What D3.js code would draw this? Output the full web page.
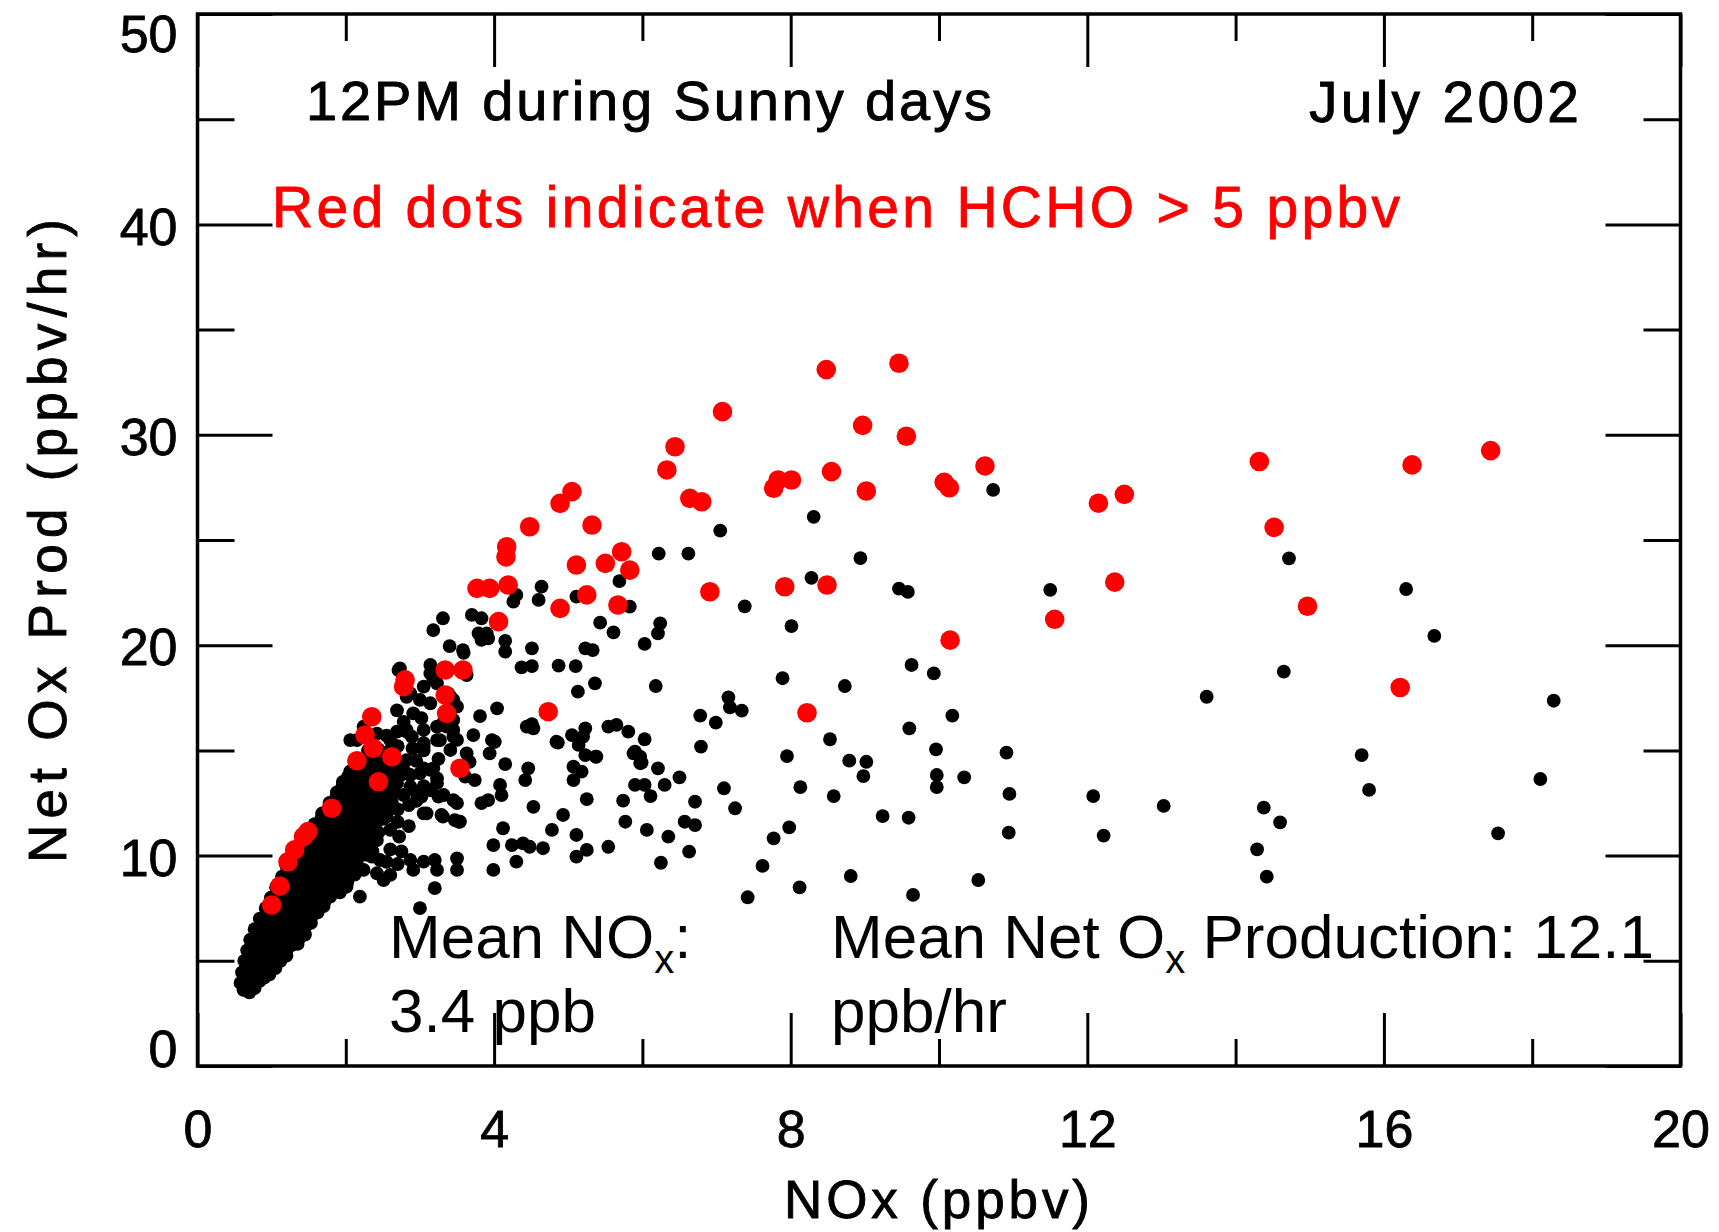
<!DOCTYPE html>
<html>
<head>
<meta charset="utf-8">
<script src="https://cdn.jsdelivr.net/npm/d3@7"></script>
<style>
    body { margin: 0; background: #fff; }
    text { font-family: 'Liberation Sans', Arial, sans-serif; }
</style>
</head>
<body>
<div id="chart"></div>
<script>
// NOx vs Net Ox production, 12PM sunny days, July 2002

const xTicksMajor = [0, 4, 8, 12, 16, 20];
const xTicksMinor = [2, 6, 10, 14, 18];
const yTicksMajor = [0, 10, 20, 30, 40, 50];
const yTicksMinor = [5, 15, 25, 35, 45];

// black dots (NOx, net Ox prod) - sparse part
const blackSparse = [
    [14.72, 24.13], [16.3, 22.67], [16.68, 20.44], [14.65, 18.74], [13.61, 17.55], [18.29, 17.36],
    [15.7, 14.78], [15.8, 13.12], [18.11, 13.64], [13.03, 12.36], [14.38, 12.28], [14.6, 11.58],
    [17.54, 11.06], [14.29, 10.3], [14.42, 9.0], [11.5, 22.63], [10.73, 27.38],
    [8.31, 26.1], [8.28, 23.2], [8.94, 24.14], [9.46, 22.69], [9.58, 22.53], [8.01, 20.91],
    [7.05, 25.45], [6.22, 24.35], [6.62, 24.35], [7.38, 21.85],
    [6.24, 21.04], [6.21, 20.56], [6.03, 20.06], [6.18, 18.06], [7.89, 18.43], [8.73, 18.06],
    [9.63, 19.06], [9.93, 18.66], [7.16, 17.52], [7.18, 17.05], [7.34, 16.89], [6.78, 16.65],
    [6.99, 16.32], [6.03, 15.53], [6.79, 15.18], [5.97, 14.7], [5.99, 14.42], [6.21, 14.15],
    [6.5, 13.72], [6.3, 13.36], [6.03, 13.36], [6.11, 12.83], [6.71, 12.56], [7.1, 13.2],
    [7.25, 12.25], [7.95, 14.73], [8.53, 15.53], [8.13, 13.25], [8.58, 12.83], [8.79, 14.51],
    [9.02, 14.46], [8.98, 13.78], [9.6, 16.05], [10.18, 16.65], [9.96, 15.05], [9.97, 13.83],
    [9.97, 13.25], [10.34, 13.72], [10.91, 14.89], [10.95, 12.93], [10.94, 11.09], [12.08, 12.83],
    [12.22, 10.95], [9.24, 11.88], [9.59, 11.8], [10.53, 8.84], [9.65, 8.13], [8.81, 9.03],
    [8.12, 8.49], [7.42, 8.02], [7.62, 9.51], [7.77, 10.82], [7.98, 11.34], [6.06, 11.22],
    [6.35, 10.9], [6.57, 11.61], [6.71, 11.45], [6.63, 10.19], [6.25, 9.66]
];

// black dots in the wedge between 2 and 6 ppbv
const blackWedge = [
    [5.69, 23.05], [4.64, 22.78], [4.6, 22.15], [4.3, 22.39], [4.26, 22.07], [5.11, 22.31], [5.83, 21.83],
    [3.31, 21.28], [3.18, 20.72], [3.7, 21.44], [3.83, 21.28], [3.79, 20.56], [3.9, 20.56], [3.83, 20.25],
    [5.43, 21.07], [5.61, 20.61], [4.15, 20.21], [4.15, 19.69], [4.51, 19.85], [3.4, 19.96], [3.59, 19.64],
    [5.23, 19.85], [5.33, 19.77], [4.37, 18.95], [4.51, 19.01], [4.87, 19.03], [5.1, 19.01], [5.36, 18.19],
    [5.13, 17.79], [3.63, 18.58], [4.04, 17.0], [3.81, 16.63], [4.44, 16.13], [4.51, 16.25], [4.86, 15.37],
    [5.05, 15.73], [5.14, 15.26], [5.23, 16.05], [5.54, 16.13], [5.65, 16.21], [5.81, 15.89], [5.37, 14.7],
    [5.9, 14.94], [5.97, 14.39], [5.9, 13.36], [5.74, 12.61], [5.25, 12.68], [5.18, 13.99], [5.07, 13.59],
    [4.93, 11.93], [4.53, 12.32], [4.46, 14.15], [4.42, 13.59], [4.01, 15.41], [3.94, 14.86], [4.15, 14.35],
    [4.08, 13.36], [4.1, 12.88], [3.92, 12.64], [3.83, 12.49], [3.72, 15.73], [4.12, 11.3], [4.78, 11.22],
    [5.11, 10.98], [5.77, 11.61], [3.09, 12.01], [3.31, 11.85], [3.54, 11.61], [3.45, 12.64], [3.25, 12.8],
    [3.74, 13.59], [3.61, 13.75], [3.63, 14.86], [3.67, 14.46], [3.27, 15.49], [3.45, 15.65], [3.36, 16.13],
    [3.45, 17.4], [3.38, 17.71], [3.18, 18.35], [3.14, 19.06], [2.73, 18.9], [2.87, 17.71], [2.91, 16.76],
    [2.82, 15.89], [3.05, 15.18], [3.14, 14.07], [2.82, 13.91], [3.23, 13.44],
    [2.71, 18.82], [3.05, 18.03], [2.78, 16.36], [3.02, 16.53], [2.89, 15.65], [2.6, 15.49], [2.15, 15.49],
    [3.05, 15.34], [3.23, 15.49], [3.45, 15.97], [3.41, 15.02], [3.18, 14.15], [2.87, 13.83], [2.69, 13.44],
    [3.0, 13.91], [3.32, 12.88], [3.5, 12.49], [3.05, 12.01], [3.29, 11.93], [3.52, 11.61], [2.78, 12.88],
    [2.6, 12.8], [2.37, 12.49], [2.55, 11.85], [2.6, 11.22], [2.42, 10.74], [2.46, 9.79], [2.35, 9.95],
    [2.24, 9.32], [2.42, 9.16], [2.51, 8.84], [2.19, 8.05], [2.01, 8.52], [1.79, 8.05], [1.97, 9.32],
    [1.9, 10.42], [2.24, 10.42], [2.17, 11.06], [1.54, 7.1], [1.47, 6.7], [1.34, 6.31], [1.34, 5.83],
    [2.87, 9.79], [3.05, 9.71], [3.2, 9.79], [2.91, 9.32], [3.23, 9.32], [3.2, 8.45], [3.0, 7.5],
    [3.5, 9.87], [3.5, 9.32], [3.58, 19.77], [3.97, 15.49], [5.25, 10.27], [5.54, 10.42], [4.66, 10.35],
    [4.39, 10.58], [4.24, 10.5], [3.99, 10.5], [3.99, 9.32], [4.3, 9.71], [5.11, 9.95], [5.2, 15.65],
    [4.84, 15.41], [5.07, 14.23], [5.23, 14.78], [5.38, 14.7], [5.88, 14.86], [4.53, 16.05], [3.92, 20.33],
    [4.48, 10.42], [3.02, 12.8], [3.47, 11.69], [2.6, 9.08],
    [2.06, 15.49], [2.24, 16.13], [2.42, 15.8], [2.55, 15.7], [2.69, 15.89], [2.82, 15.97], [3.05, 15.97],
    [3.23, 16.13], [3.32, 16.36], [3.45, 16.45], [3.5, 15.5], [3.05, 15.0], [2.82, 14.54], [2.64, 14.07],
    [3.05, 14.15], [3.23, 13.67], [2.51, 13.28], [2.42, 12.96], [2.87, 13.28], [3.05, 13.3], [3.14, 17.24],
    [3.0, 17.4], [3.23, 18.19], [3.14, 18.66], [2.82, 17.55], [2.69, 16.9], [3.41, 17.55], [3.5, 17.08],
    [2.7, 12.2], [2.85, 12.4], [2.95, 12.6], [2.7, 11.6], [2.85, 11.4], [2.72, 10.9], [2.6, 10.3],
    [2.75, 10.2], [2.55, 9.7], [2.7, 9.6], [2.95, 14.5], [3.25, 14.6], [2.7, 15.2], [2.9, 15.1],
    [2.55, 14.5], [2.95, 13.0], [2.65, 13.0], [3.15, 13.1]
];

// dense band of black dots near the origin
const blackBand = [
    [0.62, 3.62], [0.7, 3.5], [0.58, 3.95], [0.72, 3.9], [0.84, 4.05], [0.65, 3.75], [0.77, 3.7],
    [0.6, 4.45], [0.72, 4.4], [0.85, 4.5], [0.97, 4.35], [0.66, 4.2], [0.79, 4.25], [0.9, 4.2],
    [0.63, 5.0], [0.76, 4.9], [0.88, 5.05], [1.0, 4.85], [1.12, 5.0],
    [0.68, 4.7], [0.8, 4.75], [0.93, 4.7], [1.05, 4.65],
    [0.67, 5.5], [0.8, 5.45], [0.93, 5.55], [1.06, 5.4], [1.2, 5.5],
    [0.7, 5.25], [0.83, 5.2], [0.96, 5.3], [1.09, 5.2], [1.2, 5.25],
    [0.71, 6.0], [0.84, 6.05], [0.97, 5.95], [1.1, 6.1], [1.24, 5.95], [1.37, 6.05],
    [0.74, 5.75], [0.87, 5.7], [1.0, 5.8], [1.13, 5.7], [1.27, 5.75], [1.35, 5.8],
    [0.77, 6.5], [0.9, 6.45], [1.03, 6.55], [1.17, 6.45], [1.3, 6.6], [1.43, 6.45],
    [0.8, 6.25], [0.93, 6.3], [1.06, 6.2], [1.2, 6.3], [1.33, 6.2], [1.45, 6.25],
    [0.84, 7.0], [0.97, 7.05], [1.1, 6.95], [1.24, 7.05], [1.38, 6.95], [1.5, 7.1],
    [0.86, 6.75], [1.0, 6.8], [1.13, 6.7], [1.27, 6.8], [1.4, 6.7], [1.53, 6.8],
    [0.92, 7.5], [1.05, 7.45], [1.18, 7.55], [1.32, 7.45], [1.46, 7.55], [1.6, 7.45], [1.7, 7.6],
    [0.95, 7.25], [1.08, 7.3], [1.21, 7.2], [1.35, 7.3], [1.48, 7.2], [1.62, 7.3],
    [0.99, 8.0], [1.12, 8.05], [1.26, 7.95], [1.4, 8.05], [1.54, 7.95], [1.68, 8.05],
    [1.02, 7.75], [1.15, 7.8], [1.29, 7.7], [1.43, 7.8], [1.57, 7.7], [1.71, 7.8],
    [1.06, 8.5], [1.2, 8.45], [1.34, 8.55], [1.48, 8.45], [1.62, 8.55], [1.76, 8.45], [1.9, 8.6],
    [1.09, 8.25], [1.23, 8.3], [1.37, 8.2], [1.51, 8.3], [1.65, 8.2], [1.79, 8.3], [1.92, 8.25],
    [1.14, 9.0], [1.28, 9.05], [1.42, 8.95], [1.56, 9.05], [1.7, 8.95], [1.84, 9.05], [1.98, 8.95], [2.12, 9.1],
    [1.17, 8.75], [1.31, 8.8], [1.45, 8.7], [1.59, 8.8], [1.73, 8.7], [1.87, 8.8], [2.02, 8.75],
    [1.2, 9.5], [1.34, 9.45], [1.48, 9.55], [1.62, 9.45], [1.76, 9.55], [1.9, 9.45], [2.04, 9.6],
    [1.24, 9.25], [1.38, 9.3], [1.52, 9.2], [1.66, 9.3], [1.8, 9.2], [1.94, 9.3], [2.08, 9.25],
    [1.28, 10.0], [1.42, 10.05], [1.56, 9.95], [1.7, 10.05], [1.84, 9.95], [1.98, 10.05], [2.12, 9.95], [2.26, 10.05],
    [1.31, 9.75], [1.45, 9.8], [1.59, 9.7], [1.73, 9.8], [1.87, 9.7], [2.01, 9.8], [2.15, 9.75],
    [1.38, 10.5], [1.52, 10.45], [1.66, 10.55], [1.8, 10.45], [1.94, 10.55], [2.08, 10.45], [2.22, 10.55], [2.34, 10.45],
    [1.39, 10.25], [1.53, 10.3], [1.67, 10.2], [1.81, 10.3], [1.95, 10.2], [2.09, 10.3], [2.23, 10.25], [2.36, 10.2],
    [1.48, 11.0], [1.62, 11.05], [1.76, 10.95], [1.9, 11.05], [2.04, 10.95], [2.18, 11.05], [2.32, 10.95], [2.44, 11.1],
    [1.48, 10.75], [1.62, 10.8], [1.76, 10.7], [1.9, 10.8], [2.04, 10.7], [2.18, 10.8], [2.3, 10.75],
    [1.58, 11.5], [1.72, 11.45], [1.86, 11.55], [2.0, 11.45], [2.14, 11.55], [2.28, 11.45], [2.4, 11.55],
    [1.57, 11.25], [1.71, 11.3], [1.85, 11.2], [1.99, 11.3], [2.13, 11.2], [2.27, 11.3], [2.4, 11.25],
    [1.68, 12.0], [1.82, 12.05], [1.96, 11.95], [2.1, 12.05], [2.24, 11.95], [2.38, 12.05], [2.5, 11.95],
    [1.67, 11.75], [1.81, 11.8], [1.95, 11.7], [2.09, 11.8], [2.23, 11.7], [2.37, 11.8], [2.5, 11.75],
    [1.78, 12.5], [1.92, 12.45], [2.06, 12.55], [2.2, 12.45], [2.34, 12.55], [2.48, 12.45], [2.62, 12.55],
    [1.77, 12.25], [1.91, 12.3], [2.05, 12.2], [2.19, 12.3], [2.33, 12.2], [2.47, 12.3], [2.6, 12.25],
    [1.88, 13.0], [2.02, 13.05], [2.16, 12.95], [2.3, 13.05], [2.44, 12.95], [2.58, 13.05],
    [1.87, 12.75], [2.01, 12.8], [2.15, 12.7], [2.29, 12.8], [2.43, 12.7], [2.57, 12.8],
    [1.96, 13.5], [2.1, 13.45], [2.24, 13.55], [2.38, 13.45], [2.52, 13.55], [2.66, 13.45],
    [1.95, 13.25], [2.09, 13.3], [2.23, 13.2], [2.37, 13.3], [2.51, 13.2], [2.65, 13.3],
    [2.06, 14.0], [2.2, 14.05], [2.34, 13.95], [2.48, 14.05], [2.62, 13.95], [2.78, 14.05],
    [2.03, 13.75], [2.17, 13.8], [2.31, 13.7], [2.45, 13.8], [2.59, 13.7], [2.73, 13.8],
    [2.2, 14.5], [2.34, 14.55], [2.48, 14.45], [2.62, 14.55],
    [2.13, 14.25], [2.27, 14.3], [2.41, 14.2], [2.55, 14.3], [2.69, 14.2],
    [2.3, 15.0], [2.44, 15.05], [2.58, 14.95]
];

// red dots: HCHO > 5 ppbv
const redDots = [
    [1.0, 7.65], [1.11, 8.55], [1.22, 9.71], [1.31, 10.27], [1.43, 10.9], [1.49, 11.14], [1.81, 12.25],
    [2.15, 14.51], [2.44, 13.51], [2.26, 15.73], [2.35, 16.6], [2.37, 15.1], [2.62, 14.7], [2.78, 18.03],
    [2.8, 18.35], [3.34, 18.82], [3.58, 18.82], [3.34, 17.63], [3.36, 16.76], [3.54, 14.15], [4.73, 16.84],
    [6.44, 29.43], [6.33, 28.33], [5.05, 27.3], [4.89, 26.74], [4.48, 25.63], [5.32, 25.71], [4.17, 24.68],
    [4.16, 24.2], [6.64, 26.98], [6.8, 26.82], [7.77, 27.46], [7.83, 27.85], [8.01, 27.85], [8.55, 28.25],
    [5.11, 23.81], [5.5, 23.89], [5.72, 24.44], [5.83, 23.57], [3.77, 22.7], [3.94, 22.7], [4.19, 22.86],
    [5.25, 22.39], [4.89, 21.75], [5.67, 21.91], [4.06, 21.12], [6.91, 22.54], [7.92, 22.78], [8.49, 22.86],
    [8.22, 16.79], [7.08, 31.1], [8.48, 33.1], [9.46, 33.4], [8.97, 30.45], [9.56, 29.93], [9.02, 27.33],
    [10.07, 27.74], [10.14, 27.48], [10.62, 28.52], [10.15, 20.24], [14.32, 28.73], [12.15, 26.75],
    [12.5, 27.17], [12.37, 23.0], [11.56, 21.23], [14.52, 25.6], [14.97, 21.85], [16.38, 28.57],
    [17.44, 29.25], [16.22, 17.99]
];

let width = 1719;
let height = 1232;

let svg = d3.select('#chart')
    .append('svg')
    .attr('width', width)
    .attr('height', height)
    .style('display', 'block');

svg.append('rect')
    .attr('width', width)
    .attr('height', height)
    .attr('fill', '#fff');

const x = d3.scaleLinear().domain([0, 20]).range([197.5, 1680.5]);
const y = d3.scaleLinear().domain([0, 50]).range([1066, 14]);

// dots, black first, red on top
svg.append('g')
    .selectAll('circle')
    .data(blackBand.concat(blackWedge, blackSparse))
    .join('circle')
    .attr('cx', d => x(d[0]))
    .attr('cy', d => y(d[1]))
    .attr('r', 6.9)
    .attr('fill', '#000');

svg.append('g')
    .selectAll('circle')
    .data(redDots)
    .join('circle')
    .attr('cx', d => x(d[0]))
    .attr('cy', d => y(d[1]))
    .attr('r', 9.8)
    .attr('fill', '#ff0000');

// axes, ticks point inwards
function styleAxis(g) {
    g.select('.domain').remove();
    g.selectAll('.tick line').attr('stroke', '#000').attr('stroke-width', 3);
}

function styleLabels(g) {
    g.selectAll('text')
        .attr('font-size', 52)
        .attr('fill', '#000')
        .attr('stroke', '#000')
        .attr('stroke-width', 0.8)
        .attr('font-family', "'Liberation Sans', Arial, sans-serif");
}

svg.append('g')
    .attr('transform', `translate(0,${y(0)})`)
    .call(d3.axisBottom(x).tickValues(xTicksMajor).tickSize(-53).tickPadding(44).tickFormat(d3.format('d')))
    .call(styleAxis)
    .call(styleLabels);

svg.append('g')
    .attr('transform', `translate(0,${y(0)})`)
    .call(d3.axisBottom(x).tickValues(xTicksMinor).tickSize(-27).tickFormat(''))
    .call(styleAxis);

svg.append('g')
    .attr('transform', `translate(0,${y(50)})`)
    .call(d3.axisTop(x).tickValues(xTicksMajor).tickSize(-53).tickFormat(''))
    .call(styleAxis);

svg.append('g')
    .attr('transform', `translate(0,${y(50)})`)
    .call(d3.axisTop(x).tickValues(xTicksMinor).tickSize(-27).tickFormat(''))
    .call(styleAxis);

svg.append('g')
    .attr('transform', `translate(${x(0)},0)`)
    .call(d3.axisLeft(y).tickValues(yTicksMajor).tickSize(-75).tickPadding(20).tickFormat(d3.format('d')))
    .call(styleAxis)
    .call(styleLabels)
    .call(g => g.selectAll('text')
        .attr('dy', d => d === 0 ? '0em' : d === 50 ? '0.72em' : '0.38em'));

svg.append('g')
    .attr('transform', `translate(${x(0)},0)`)
    .call(d3.axisLeft(y).tickValues(yTicksMinor).tickSize(-37).tickFormat(''))
    .call(styleAxis);

svg.append('g')
    .attr('transform', `translate(${x(20)},0)`)
    .call(d3.axisRight(y).tickValues(yTicksMajor).tickSize(-75).tickFormat(''))
    .call(styleAxis);

svg.append('g')
    .attr('transform', `translate(${x(20)},0)`)
    .call(d3.axisRight(y).tickValues(yTicksMinor).tickSize(-37).tickFormat(''))
    .call(styleAxis);

// frame
svg.append('rect')
    .attr('x', x(0))
    .attr('y', y(50))
    .attr('width', x(20) - x(0))
    .attr('height', y(0) - y(50))
    .attr('fill', 'none')
    .attr('stroke', '#000')
    .attr('stroke-width', 3.5);

// plot text in the old vector font style: a little heavier
function boldish(sel, color) {
    return sel.attr('fill', color).attr('stroke', color).attr('stroke-width', 0.9);
}

// axis titles
svg.append('text')
    .attr('x', 784)
    .attr('y', 1218)
    .attr('font-size', 53)
    .attr('textLength', 306)
    .attr('lengthAdjust', 'spacing')
    .call(boldish, '#000')
    .text('NOx (ppbv)');

svg.append('text')
    .attr('transform', 'translate(66,863) rotate(-90)')
    .attr('font-size', 53)
    .attr('textLength', 644)
    .attr('lengthAdjust', 'spacing')
    .call(boldish, '#000')
    .text('Net Ox Prod (ppbv/hr)');

// titles inside the plot
svg.append('text')
    .attr('x', 306)
    .attr('y', 120)
    .attr('font-size', 56)
    .attr('textLength', 686)
    .attr('lengthAdjust', 'spacing')
    .call(boldish, '#000')
    .text('12PM during Sunny days');

svg.append('text')
    .attr('x', 1309)
    .attr('y', 122)
    .attr('font-size', 57)
    .attr('textLength', 270)
    .attr('lengthAdjust', 'spacing')
    .call(boldish, '#000')
    .text('July 2002');

svg.append('text')
    .attr('x', 272)
    .attr('y', 227)
    .attr('font-size', 57)
    .attr('textLength', 1128)
    .attr('lengthAdjust', 'spacing')
    .call(boldish, '#ff0000')
    .text('Red dots indicate when HCHO > 5 ppbv');

// mean annotations
function subText(sel, parts) {
    parts.forEach(p => {
        let t = sel.append('tspan').text(p.text);
        if (p.sub) {
            t.attr('font-size', 40).attr('dy', 15);
        } else if (p.back) {
            t.attr('dy', -15);
        }
    });
}

let ann1 = svg.append('text').attr('x', 389).attr('y', 958).attr('font-size', 62);
subText(ann1, [{ text: 'Mean NO' }, { text: 'x', sub: true }, { text: ':', back: true }]);
svg.append('text').attr('x', 389).attr('y', 1032).attr('font-size', 62).text('3.4 ppb');

let ann2 = svg.append('text').attr('x', 831).attr('y', 958).attr('font-size', 62);
subText(ann2, [{ text: 'Mean Net O' }, { text: 'x', sub: true }, { text: ' Production: 12.1', back: true }]);
svg.append('text').attr('x', 831).attr('y', 1032).attr('font-size', 62).text('ppb/hr');
</script>
</body>
</html>
